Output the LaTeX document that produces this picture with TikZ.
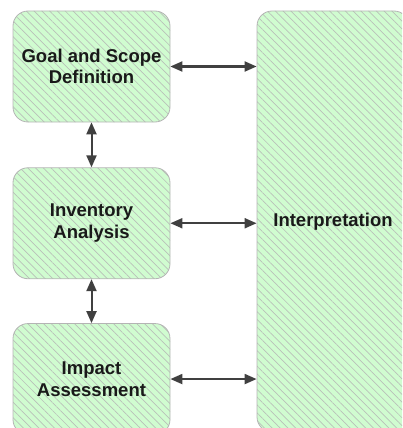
\documentclass[tikz,border=0pt]{standalone}
\usepackage{fontspec}
\setmainfont{Liberation Sans}
\definecolor{lcagreen}{RGB}{208,252,208}
\definecolor{lcahatch}{RGB}{185,192,185}
\definecolor{lcaborder}{RGB}{180,180,180}
\definecolor{lcaarrow}{RGB}{64,64,64}
\usetikzlibrary{positioning,arrows.meta,patterns.meta}

\tikzset{
    stagebox/.style={rectangle, rounded corners=15pt, draw=lcaborder, line width=0.8pt,
        preaction={fill=lcagreen},
        pattern={Lines[angle=-45,distance=5.5pt,line width=0.7pt]}, pattern color=lcahatch,
        minimum width=157pt, minimum height=111pt, inner sep=0pt, align=center,
        font=\fontsize{18.5}{21.5}\selectfont\bfseries, text=black!90},
    biarrow/.style={draw=lcaarrow, line width=2pt,
        {Triangle[length=12pt,width=10pt]}-{Triangle[length=12pt,width=10pt]}}
}

\begin{document}
\begin{tikzpicture}[x=1pt,y=1pt]
    \useasboundingbox (0,0) rectangle (402,-428);
    \clip (0,0) rectangle (402,-428);

    % Stages of the assessment
    \node[stagebox] (goal) at (91.5,-66.5) {Goal and Scope\\Definition};
    \node[stagebox, below=45pt of goal] (inventory) {Inventory\\Analysis};
    \node[stagebox, below=44pt of inventory] (impact) {Impact\\Assessment};

    % Interpretation column
    \node[stagebox, minimum width=152pt, minimum height=421pt] (interp) at (333,-221.5) {Interpretation};

    % Links between stages
    \draw[biarrow] (goal.south) -- (inventory.north);
    \draw[biarrow] (inventory.south) -- (impact.north);

    % Links to interpretation
    \draw[biarrow] (goal.east) -- (interp.west |- goal.east);
    \draw[biarrow] (inventory.east) -- (interp.west |- inventory.east);
    \draw[biarrow] (impact.east) -- (interp.west |- impact.east);
\end{tikzpicture}
\end{document}
